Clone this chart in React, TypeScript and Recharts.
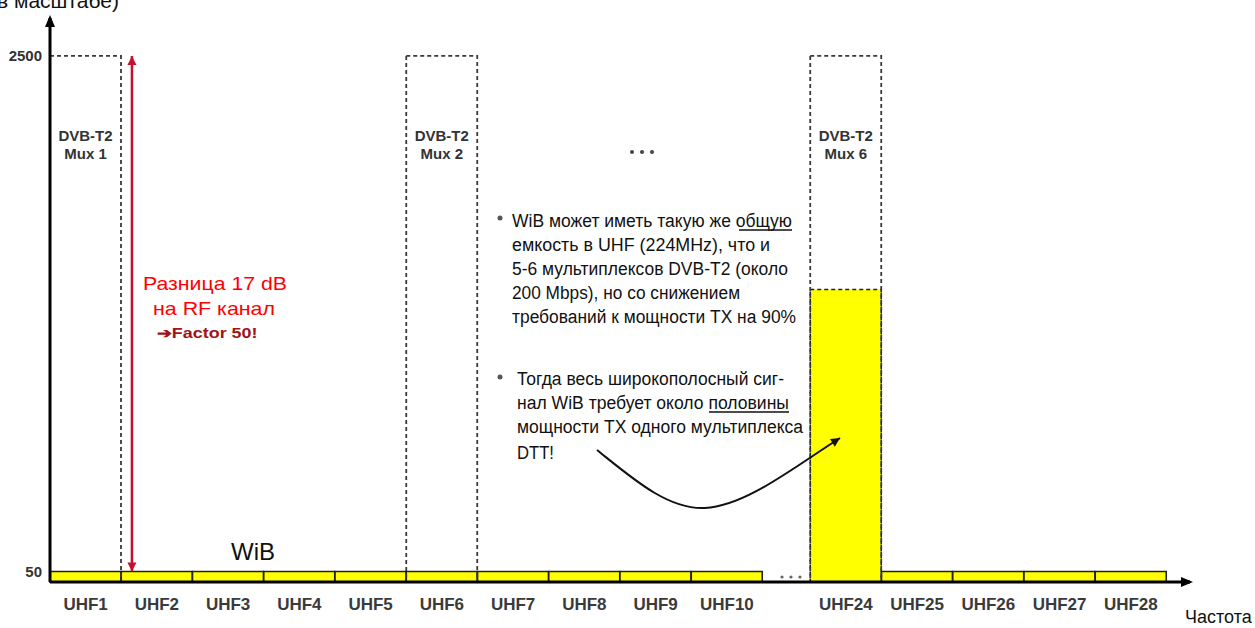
import { BarChart, Bar, XAxis, YAxis, Cell, LabelList, ReferenceLine } from "recharts";

// channel list: UHF1..UHF10, then a skipped range, then UHF24..UHF28
const channels = [
  "UHF1", "UHF2", "UHF3", "UHF4", "UHF5", "UHF6", "UHF7", "UHF8", "UHF9", "UHF10",
  "UHF24", "UHF25", "UHF26", "UHF27", "UHF28",
];
// WiB power per RF channel; UHF24 collects the whole wideband signal
const wibPower = [50, 50, 50, 50, 50, 50, 50, 50, 50, 50, 1390, 50, 50, 50, 50];
// DVB-T2 multiplex power (only where a mux is on air)
const muxPower = [2500, null, null, null, null, 2500, null, null, null, null, 2500, null, null, null, null];
const muxNames = ["Mux 1", "", "", "", "", "Mux 2", "", "", "", "", "Mux 6", "", "", "", ""];
const yTicks = [50, 2500];

// the UHF11..UHF23 range is collapsed into a narrow gap
const GAP = 0.67;
const slotOf = (i: number) => i + 0.5 + (i >= 10 ? GAP : 0);

const data = channels.map((name, i) => ({
  name,
  pos: slotOf(i),
  wib: wibPower[i],
  mux: muxPower[i],
  muxName: muxNames[i],
}));

const labelOf = (v: number) => {
  const row = data.find((d) => Math.abs(d.pos - v) < 1e-6);
  return row ? row.name : "";
};

const BAR = 71;

const MuxLabel = (props: any) => {
  const { x, y, width, value } = props;
  if (!value) return null;
  const cx = Number(x) + Number(width) / 2;
  return (
    <g fontFamily="Arial, 'Liberation Sans', sans-serif" fontWeight={700} fontSize={15} fill="#333" textAnchor="middle">
      <text x={cx} y={Number(y) + 85}>DVB-T2</text>
      <text x={cx} y={Number(y) + 103}>{value}</text>
    </g>
  );
};

const noteFont = "'Liberation Sans Narrow', 'Liberation Sans', Arial, sans-serif";

export default function App() {
  return (
    <div
      style={{
        position: "absolute",
        left: 0,
        top: 0,
        width: 1255,
        height: 628,
        background: "#fff",
        overflow: "hidden",
        fontFamily: "Arial, 'Liberation Sans', sans-serif",
      }}
    >
      <svg width={0} height={0} style={{ position: "absolute" }}>
        <defs>
          <marker id="axisHead" viewBox="0 0 12 12" refX={9} refY={6} markerWidth={12} markerHeight={12}
            markerUnits="userSpaceOnUse" orient="auto-start-reverse">
            <path d="M0,1 L12,6 L0,11 z" fill="#000" />
          </marker>
          <marker id="redHead" viewBox="0 0 10 10" refX={10} refY={5} markerWidth={9} markerHeight={11}
            markerUnits="userSpaceOnUse" orient="auto-start-reverse">
            <path d="M0,0 L10,5 L0,10 z" fill="#c8102e" />
          </marker>
          <marker id="curveHead" viewBox="0 0 10 10" refX={10} refY={5} markerWidth={11} markerHeight={9}
            markerUnits="userSpaceOnUse" orient="auto">
            <path d="M0,0 L10,5 L0,10 z" fill="#111" />
          </marker>
        </defs>
      </svg>

      <BarChart
        width={1255}
        height={628}
        data={data}
        margin={{ top: 18, right: 65, bottom: 16, left: 0 }}
        barSize={BAR}
        barGap={-BAR}
      >
        <XAxis
          dataKey="pos"
          type="number"
          domain={[0, 16]}
          ticks={data.map((d) => d.pos)}
          interval={0}
          tickFormatter={labelOf}
          tickLine={false}
          tickMargin={10}
          height={30}
          axisLine={{ stroke: "#000", strokeWidth: 3, markerEnd: "url(#axisHead)" }}
          tick={{ fill: "#3a3a3a", fontSize: 17, fontWeight: 700 }}
        />
        <YAxis
          type="number"
          domain={[0, 2680]}
          ticks={yTicks}
          interval={0}
          width={50}
          tickLine={false}
          axisLine={{ stroke: "#000", strokeWidth: 3, markerStart: "url(#axisHead)" }}
          tick={{ fill: "#333", fontSize: 15, fontWeight: 700 }}
        />
        <Bar dataKey="wib" isAnimationActive={false}>
          {data.map((d, i) => (
            <Cell
              key={i}
              fill="#ffff00"
              stroke="#222"
              strokeWidth={1.6}
              strokeDasharray={d.mux && d.wib > 50 ? "4 3" : undefined}
            />
          ))}
        </Bar>
        <Bar dataKey="mux" isAnimationActive={false} fill="none" stroke="#3a3a3a" strokeWidth={1.8} strokeDasharray="4 3">
          <LabelList dataKey="muxName" content={MuxLabel} />
        </Bar>
        {/* 17 dB difference between a mux and a WiB channel */}
        <ReferenceLine
          segment={[{ x: 1.15, y: 50 }, { x: 1.15, y: 2500 }]}
          stroke="#c8102e"
          strokeWidth={2.5}
          markerStart="url(#redHead)"
          markerEnd="url(#redHead)"
        />
      </BarChart>

      <svg
        width={1255}
        height={628}
        style={{ position: "absolute", left: 0, top: 0, pointerEvents: "none" }}
      >
        <text x={-3} y={8} fontSize={21} fill="#111">в масштабе)</text>

        <text x={253} y={560} fontSize={24} fill="#111" textAnchor="middle">WiB</text>

        <g fill="#ff0000" fontSize={19} textAnchor="middle">
          <text x={215} y={290} textLength={144} lengthAdjust="spacingAndGlyphs">Разница 17 dB</text>
          <text x={214} y={315} textLength={122} lengthAdjust="spacingAndGlyphs">на RF канал</text>
        </g>
        <text x={207} y={338} fontSize={14} fontWeight={700} fill="#a01418" textAnchor="middle"
          textLength={101} lengthAdjust="spacingAndGlyphs">➔Factor 50!</text>

        {/* ellipses for the skipped channels */}
        <g fill="#444">
          <circle cx={632} cy={152} r={2} />
          <circle cx={642} cy={152} r={2} />
          <circle cx={652} cy={152} r={2} />
        </g>
        <g fill="#666">
          <circle cx={782} cy={577} r={1.6} />
          <circle cx={791} cy={577} r={1.6} />
          <circle cx={800} cy={577} r={1.6} />
        </g>

        <g fontFamily={noteFont} fontSize={18} fill="#111" style={{ whiteSpace: "pre" }}>
          <circle cx={500} cy={218} r={2.5} fill="#555" />
          <text x={512} y={227} textLength={280} lengthAdjust="spacingAndGlyphs">WiB может иметь такую же общую</text>
          <text x={512} y={251} textLength={258} lengthAdjust="spacingAndGlyphs">емкость  в UHF (224MHz), что и</text>
          <text x={512} y={275} textLength={276} lengthAdjust="spacingAndGlyphs">5-6 мультиплексов DVB-T2 (около</text>
          <text x={512} y={299} textLength={228} lengthAdjust="spacingAndGlyphs">200 Mbps), но со снижением</text>
          <text x={512} y={323} textLength={284} lengthAdjust="spacingAndGlyphs">требований к мощности TX на 90%</text>

          <circle cx={500} cy={377} r={2.5} fill="#555" />
          <text x={517} y={385} textLength={267} lengthAdjust="spacingAndGlyphs">Тогда весь широкополосный сиг-</text>
          <text x={517} y={409} textLength={272} lengthAdjust="spacingAndGlyphs">нал WiB требует около половины</text>
          <text x={517} y={433} textLength={286} lengthAdjust="spacingAndGlyphs">мощности TX одного мультиплекса</text>
          <text x={517} y={459} textLength={37} lengthAdjust="spacingAndGlyphs">DTT!</text>
        </g>
        {/* underlines under "общую" and "половины" */}
        <g stroke="#111" strokeWidth={1.3}>
          <line x1={739} y1={230} x2={792} y2={230} />
          <line x1={709} y1={412} x2={789} y2={412} />
        </g>

        <path
          d="M597,450 C632,478 668,510 705,508 C745,506 790,470 840,438"
          fill="none"
          stroke="#111"
          strokeWidth={2}
          markerEnd="url(#curveHead)"
        />

        <text x={1185} y={623} fontSize={18} fill="#111">Частота</text>
      </svg>
    </div>
  );
}
